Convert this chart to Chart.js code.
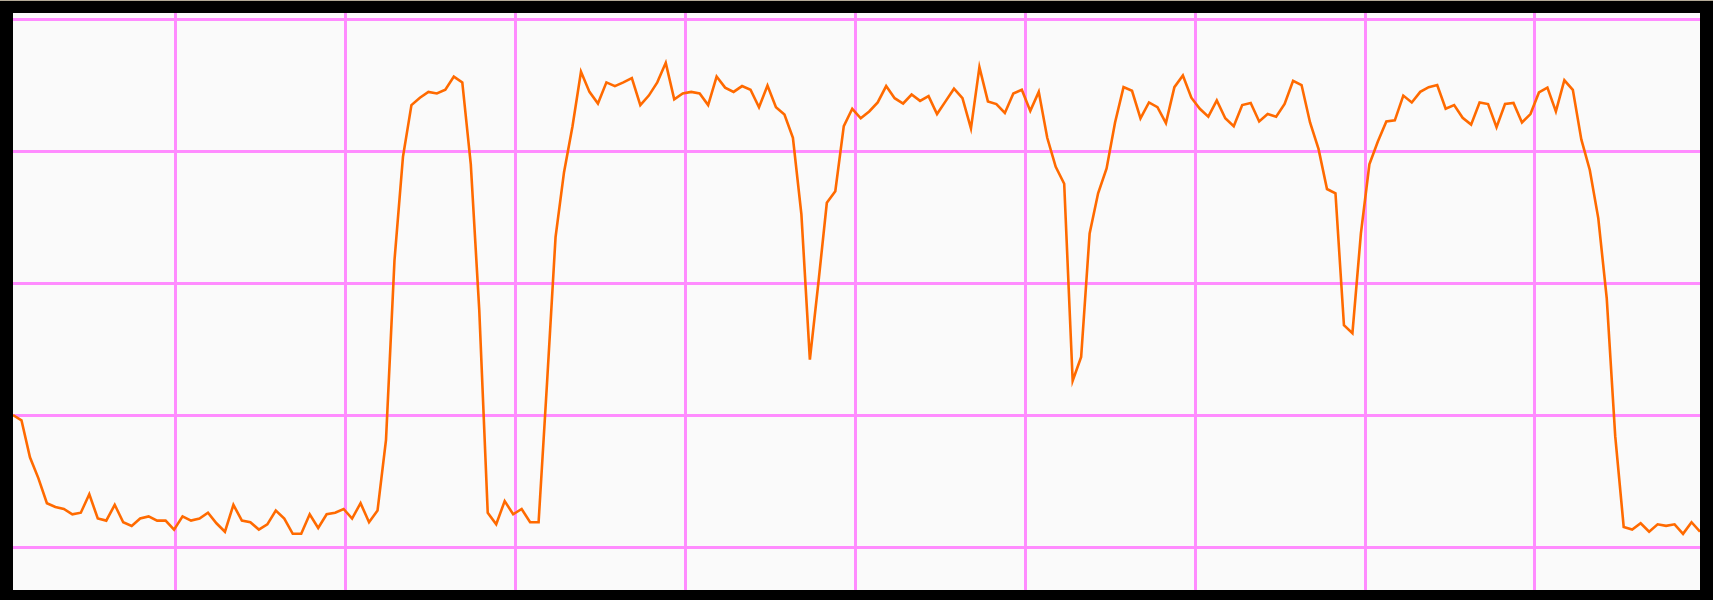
<!DOCTYPE html>
<html>
<head>
<meta charset="utf-8" />
<title>Trace</title>
<script src="https://cdn.jsdelivr.net/npm/chart.js@4/dist/chart.umd.min.js"></script>
<style>
  html, body {
    margin: 0;
    padding: 0;
    width: 1713px;
    height: 600px;
    background: #000;
    overflow: hidden;
  }
  #topEdge {
    position: absolute;
    left: 0;
    top: 0;
    width: 1713px;
    height: 1px;
    background: #b4aa98;
  }
  #screen {
    position: absolute;
    left: 13px;
    top: 13px;
    width: 1687px;
    height: 577px;
    background: #fafafa;
  }
</style>
</head>
<body>
<div id="topEdge"></div>
<div id="screen"><canvas id="traceChart"></canvas></div>

<script>
// grid divisions (x in divisions, y in percent of full scale)
const xGridTicks = [1, 2, 3, 4, 5, 6, 7, 8, 9];
const yGridTicks = [0, 25, 50, 75, 100];

// sweep covers slightly less than 10 divisions
const sweepStart = 0.0405;
const sweepEnd = 9.9714;

// trace samples (percent of full scale)
const traceStart = [
  25, 24, 17, 13, 8.3, 7.6, 7.2, 6.2, 6.5, 10,
  5.4, 5, 8, 4.7, 4, 5.4, 5.8, 5, 5, 3.3,
  5.8, 5, 5.4, 6.5, 4.5, 2.9, 8, 5, 4.7, 3.3,
  4.3, 6.9, 5.4, 2.5, 2.5, 6.2, 3.6, 6.2, 6.5, 7.2,
  5.4, 8.3, 4.7, 6.9, 20.3, 54.3, 73.9, 83.7, 85.1, 86.2,
];
const traceFirstPulse = [
  85.9, 86.6, 89.1, 88, 72.5, 44.9, 6.5, 4.3, 8.7, 6.2,
  7.2, 4.7, 4.7, 31.2, 58.7, 71, 79.7, 90, 86.2, 84,
  88, 87.3, 88, 88.8, 83.7, 85.5, 88, 91.7, 84.8, 85.9,
  86.2, 85.9, 83.7, 89.1, 87, 86.2, 87.3, 86.6, 83.3, 87.4,
  83.3, 81.9, 77.5, 63, 35.5, 50, 65.2, 67.4, 79.7, 83,
];
const traceMiddle = [
  81.2, 82.5, 84.2, 87.3, 85, 84, 85.7, 84.5, 85.4, 82,
  84.4, 86.8, 85, 79.3, 90.9, 84.4, 83.9, 82.2, 85.9, 86.6,
  82.6, 86.2, 77.5, 72, 68.8, 31.5, 36, 59.4, 67, 71.7,
  80.4, 87.1, 86.4, 81.2, 84.2, 83.3, 80.3, 87.1, 89.3, 85.1,
  83, 81.5, 84.6, 81.2, 79.7, 83.7, 84.1, 80.6, 82, 81.5,
];
const traceEnd = [
  83.9, 88.3, 87.5, 80.4, 75.4, 67.8, 67, 42, 40.5, 59.4,
  72.5, 76.8, 80.6, 80.8, 85.5, 84.2, 86.2, 87.1, 87.5, 83,
  83.7, 81.3, 80, 84.2, 83.9, 79.5, 83.9, 84.1, 80.4, 82,
  86.1, 87, 82.5, 88.4, 86.6, 77.2, 71.4, 62.3, 47.1, 21,
  3.8, 3.3, 4.5, 2.9, 4.3, 4, 4.3, 2.5, 4.7, 2.9,
];

const trace = [...traceStart, ...traceFirstPulse, ...traceMiddle, ...traceEnd];
const dx = (sweepEnd - sweepStart) / (trace.length - 1);
const points = trace.map((v, i) => ({ x: sweepStart + i * dx, y: v }));

const gridColor = "#ff8cff";

new Chart(document.getElementById("traceChart"), {
  type: "line",
  data: {
    datasets: [
      {
        data: points,
        borderColor: "#ff6a00",
        borderWidth: 2.6,
        pointRadius: 0,
        tension: 0,
        fill: false,
      },
    ],
  },
  options: {
    responsive: true,
    maintainAspectRatio: false,
    animation: false,
    layout: { padding: 0 },
    plugins: {
      legend: { display: false },
      tooltip: { enabled: false },
    },
    scales: {
      x: {
        type: "linear",
        min: sweepStart,
        max: sweepEnd,
        afterBuildTicks: (axis) => {
          axis.ticks = xGridTicks.map((v) => ({ value: v }));
        },
        ticks: { display: false },
        border: { display: false },
        grid: { color: gridColor, lineWidth: 3, drawTicks: false, tickLength: 0 },
      },
      y: {
        min: -8.14,
        max: 101.14,
        afterBuildTicks: (axis) => {
          axis.ticks = yGridTicks.map((v) => ({ value: v }));
        },
        ticks: { display: false },
        border: { display: false },
        grid: { color: gridColor, lineWidth: 3, drawTicks: false, tickLength: 0 },
      },
    },
  },
});
</script>
</body>
</html>
